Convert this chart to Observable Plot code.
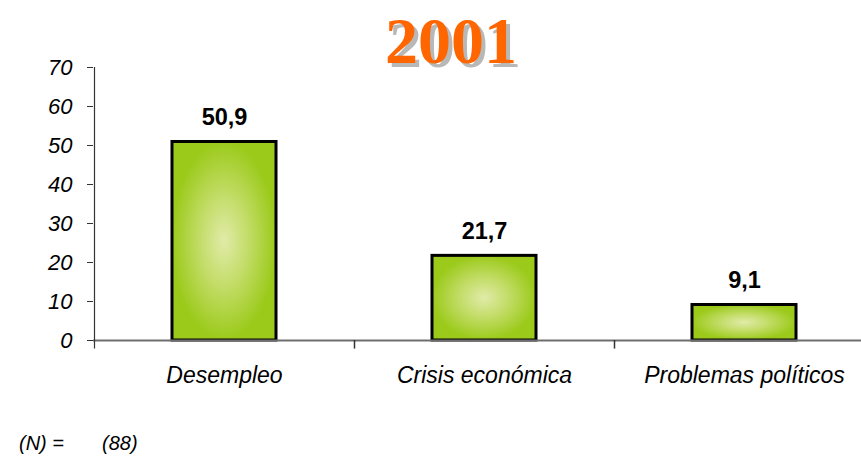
<!DOCTYPE html>
<html>
<head>
<meta charset="utf-8">
<script src="https://cdn.jsdelivr.net/npm/d3@7"></script>
<script src="https://cdn.jsdelivr.net/npm/@observablehq/plot@0.6"></script>
<style>
  html, body { margin: 0; padding: 0; background: #fff; }
  #wrap { position: relative; width: 861px; height: 461px; overflow: hidden; }
  #title { position: absolute; left: 385px; top: 8px; font-family: "Liberation Serif", "Times New Roman", serif; font-weight: bold; font-size: 66px; line-height: 1; color: #ff6600; text-shadow: 4px 4px 0 #b8b8b8; white-space: nowrap; }
  .foot { position: absolute; top: 433px; font-family: "Liberation Sans", Arial, sans-serif; font-style: italic; font-size: 20px; line-height: 1; color: #000; white-space: nowrap; }
</style>
</head>
<body>
<div id="wrap">
  <div id="title"></div>
  <div id="foot1" class="foot" style="left:19px"></div>
  <div id="foot2" class="foot" style="left:102px"></div>
</div>
<script>
const titleText = "2001";
const categories = ["Desempleo", "Crisis económica", "Problemas políticos"];
const values = [50.9, 21.7, 9.1];
const valueLabels = ["50,9", "21,7", "9,1"];
const yTicks = [0, 10, 20, 30, 40, 50, 60, 70];
const footLabel = "(N) =";
const footValue = "(88)";

const data = categories.map((c, i) => ({cat: c, value: values[i], label: valueLabels[i]}));

document.getElementById("title").textContent = titleText;
document.getElementById("foot1").textContent = footLabel;
document.getElementById("foot2").textContent = footValue;

const font = "'Liberation Sans', Arial, sans-serif";

const chart = Plot.plot({
  width: 861,
  height: 461,
  marginLeft: 93,
  marginRight: 0,
  marginTop: 67,
  marginBottom: 121,
  style: {fontFamily: font, fontStyle: "italic", background: "transparent", overflow: "visible"},
  x: {domain: categories, range: [94, 874], paddingInner: 0.6, paddingOuter: 0.3, label: null},
  y: {domain: [0, 70], label: null},
  marks: [
    Plot.barY(data, {x: "cat", y: "value", fill: "url(#barGrad)", stroke: "#000", strokeWidth: 3}),
    Plot.ruleY([0], {stroke: "#6e6e6e", strokeWidth: 2}),
    Plot.ruleX([categories[0]], {dx: -130, y1: -2.2, y2: 70, stroke: "#333", strokeWidth: 1.2}),
    Plot.ruleX(categories.slice(1), {dx: -130, y1: 0, y2: -2.2, stroke: "#333", strokeWidth: 1.5}),
    Plot.axisY({ticks: yTicks, tickSize: 6, tickPadding: 15, tickFormat: d => String(d), fontSize: 22, fontStyle: "italic", stroke: "#333", fill: "#000", label: null}),
    Plot.axisX({tickSize: 0, tickPadding: 26, fontSize: 23, fontStyle: "italic", fill: "#000", label: null}),
    Plot.text(data, {x: "cat", y: "value", text: "label", dy: -17, lineAnchor: "bottom", fontSize: 23.5, fontWeight: "bold", fontStyle: "normal", fill: "#000"})
  ]
});

const ns = "http://www.w3.org/2000/svg";
const defs = document.createElementNS(ns, "defs");
const grad = document.createElementNS(ns, "radialGradient");
grad.setAttribute("id", "barGrad");
grad.setAttribute("cx", "0.5");
grad.setAttribute("cy", "0.5");
grad.setAttribute("r", "0.5");
[["0", "#e0eba8"], ["0.45", "#c4dd6a"], ["1", "#9bca1a"]].forEach(([o, c]) => {
  const s = document.createElementNS(ns, "stop");
  s.setAttribute("offset", o);
  s.setAttribute("stop-color", c);
  grad.appendChild(s);
});
defs.appendChild(grad);
chart.insertBefore(defs, chart.firstChild);
chart.style.position = "absolute";
chart.style.left = "0";
chart.style.top = "0";
document.getElementById("wrap").insertBefore(chart, document.getElementById("title"));
</script>
</body>
</html>
